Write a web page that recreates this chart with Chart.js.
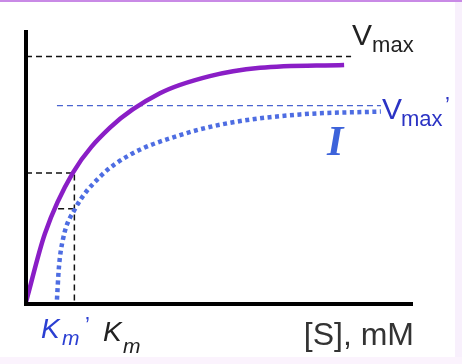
<!DOCTYPE html>
<html>
<head>
<meta charset="utf-8">
<script src="https://cdn.jsdelivr.net/npm/chart.js@4"></script>
<style>
  html, body { margin: 0; padding: 0; background: #fff; }
  canvas { display: block; }
</style>
</head>
<body>
<canvas id="chart" width="462" height="364"></canvas>
<script>
// [S] in mM, v in units of Vmax
const substrate = [0, 0.49, 1.21, 2.17, 3.46, 4.75, 6.05, 8.22];
const velocity = [0, 0.279, 0.526, 0.71, 0.85, 0.92, 0.954, 0.966];

// with inhibitor I
const substrateI = [0.80, 0.85, 0.96, 1.27, 1.91, 2.69, 3.98, 5.27, 7.08, 9.17];
const velocityI = [0.01, 0.14, 0.259, 0.38, 0.51, 0.60, 0.68, 0.73, 0.764, 0.776];

// guide lines
const vmax = 1.0;
const vmaxEnd = 8.4;
const vmaxI = 0.80;
const vmaxIRange = [0.80, 9.17];
const km = 1.25;
const halfV = 0.526;
const halfVI = 0.38;
const halfVIStart = 0.83;

const pts = (xs, ys) => xs.map((x, i) => ({ x, y: ys[i] }));

const frame = {
    id: 'frame',
    beforeDraw(chart) {
        const ctx = chart.ctx;
        ctx.save();
        ctx.fillStyle = '#fff';
        ctx.fillRect(0, 0, 462, 364);
        ctx.fillStyle = '#f8f0fc';
        ctx.fillRect(455, 0, 7, 364);
        ctx.fillStyle = '#fbf3fd';
        ctx.fillRect(0, 357, 462, 7);
        ctx.fillStyle = '#c98ae6';
        ctx.fillRect(0, 0, 462, 2);
        ctx.restore();
    },
    afterDraw(chart) {
        const { ctx, chartArea, scales } = chart;
        const x = scales.x, y = scales.y;
        ctx.save();
        // axes
        ctx.strokeStyle = '#000';
        ctx.lineWidth = 4;
        ctx.beginPath();
        ctx.moveTo(chartArea.left, chartArea.top - 2);
        ctx.lineTo(chartArea.left, chartArea.bottom + 2);
        ctx.lineTo(chartArea.right, chartArea.bottom + 2);
        ctx.stroke();

        const base = '"Liberation Sans", Arial, sans-serif';
        ctx.textBaseline = 'alphabetic';
        ctx.textAlign = 'left';

        // Vmax
        let px = x.getPixelForValue(vmaxEnd) + 1;
        let py = y.getPixelForValue(vmax);
        ctx.fillStyle = '#222';
        ctx.font = '30px ' + base;
        ctx.fillText('V', px, py - 12);
        ctx.font = '22px ' + base;
        ctx.fillText('max', px + 20, py - 5);

        // Vmax'
        px = x.getPixelForValue(vmaxIRange[1]) + 1;
        py = y.getPixelForValue(vmaxI);
        ctx.fillStyle = '#2b33c4';
        ctx.font = '30px ' + base;
        ctx.fillText('V', px, py + 13);
        ctx.font = '22px ' + base;
        ctx.fillText('max', px + 19, py + 20);
        ctx.fillText('\u2019', px + 63, py + 6);

        // inhibitor I
        ctx.fillStyle = '#3d63da';
        ctx.font = 'italic bold 42px "Liberation Serif", serif';
        ctx.fillText('I', 327, 155);

        // Km' and Km
        ctx.fillStyle = '#2b3fd2';
        ctx.font = 'italic 28px ' + base;
        ctx.fillText('K', 41, 338);
        ctx.font = 'italic 21px ' + base;
        ctx.fillText('m', 62, 345);
        ctx.font = '22px ' + base;
        ctx.fillText('\u2019', 85, 332);

        ctx.fillStyle = '#222';
        ctx.font = 'italic 28px ' + base;
        ctx.fillText('K', 103, 341);
        ctx.font = 'italic 21px ' + base;
        ctx.fillText('m', 123, 353);

        // axis title
        ctx.fillStyle = '#333';
        ctx.font = '32px ' + base;
        ctx.textAlign = 'right';
        ctx.fillText('[S], mM', chartArea.right + 1, 345);
        ctx.restore();
    }
};

new Chart(document.getElementById('chart'), {
    type: 'line',
    data: {
        datasets: [
            {
                data: pts(substrate, velocity),
                borderColor: '#8a1ec6',
                borderWidth: 4.5,
                cubicInterpolationMode: 'monotone'
            },
            {
                data: pts(substrateI, velocityI),
                borderColor: '#4e6de2',
                borderWidth: 4.5,
                borderDash: [4, 3.5],
                cubicInterpolationMode: 'monotone'
            },
            {
                data: pts([0, vmaxEnd], [vmax, vmax]),
                borderColor: '#111',
                borderWidth: 1.5,
                borderDash: [6, 4]
            },
            {
                data: pts(vmaxIRange, [vmaxI, vmaxI]),
                borderColor: '#4a64d0',
                borderWidth: 1.2,
                borderDash: [6, 4]
            },
            {
                data: pts([0, km, km], [halfV, halfV, 0]),
                borderColor: '#111',
                borderWidth: 1.5,
                borderDash: [6, 4]
            },
            {
                data: pts([halfVIStart, km], [halfVI, halfVI]),
                borderColor: '#111',
                borderWidth: 1.5,
                borderDash: [6, 4]
            }
        ]
    },
    options: {
        responsive: false,
        animation: false,
        layout: { padding: { left: 26, right: 49, top: 32, bottom: 62 } },
        elements: { point: { radius: 0 }, line: { fill: false, borderCapStyle: 'butt' } },
        plugins: { legend: { display: false }, tooltip: { enabled: false } },
        scales: {
            x: { type: 'linear', min: 0, max: 10, display: false },
            y: { type: 'linear', min: 0, max: 1.1, display: false }
        }
    },
    plugins: [frame]
});
</script>
</body>
</html>
